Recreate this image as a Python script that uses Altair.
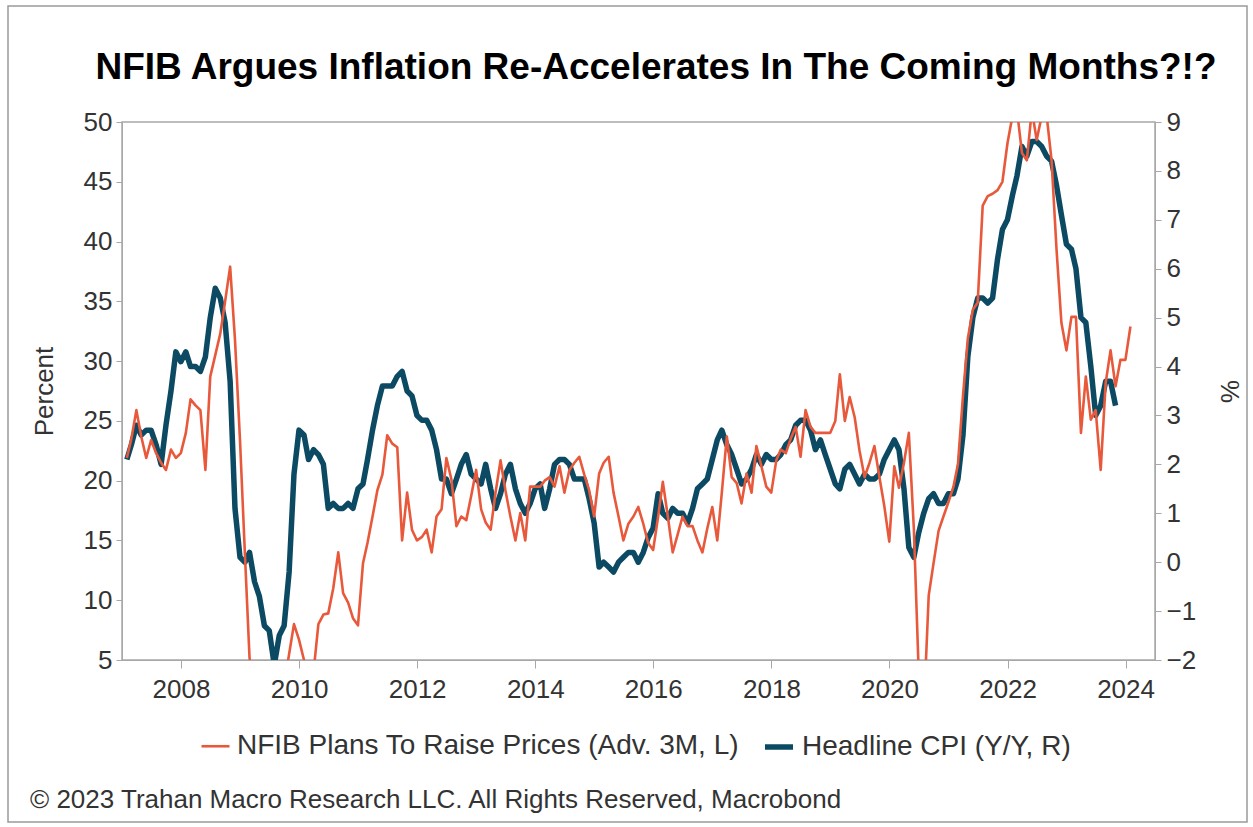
import altair as alt
import pandas as pd

RED = "#E8593C"
TEAL = "#0B4A62"
FONT = "Liberation Sans"
TXT = "#333333"
GRAY = "#a8a8a8"

TITLE = "NFIB Argues Inflation Re-Accelerates In The Coming Months?!?"
COPYRIGHT = "\u00a9 2023 Trahan Macro Research LLC. All Rights Reserved, Macrobond"
NFIB = "NFIB Plans To Raise Prices (Adv. 3M, L)"
CPI = "Headline CPI (Y/Y, R)"

# NFIB net % planning to raise prices, advanced 3 months (left axis), monthly from Jan 2007
nfib_2007 = [21.9, 23.5, 25.9, 23.7, 21.9, 23.4, 22.3, 21.5, 20.9, 22.6, 21.9, 22.3]
nfib_2008 = [24.0, 26.8, 26.3, 25.9, 20.9, 28.7, 30.5, 32.3, 35.0, 37.9, 31.8, 23.4]
nfib_2009 = [13.7, 5.2, 2.0, 1.0, 0.0, -1.0, 0.0, 1.0, 3.0, 5.5, 8.0, 6.7]
nfib_2010 = [5.0, 3.5, 4.0, 8.0, 8.8, 8.9, 11.0, 14.0, 10.6, 9.8, 8.5, 7.9]
nfib_2011 = [13.1, 14.8, 17.0, 19.2, 20.5, 23.8, 23.1, 22.8, 15.0, 19.0, 15.9, 15.0]
nfib_2012 = [15.3, 15.9, 14.0, 17.0, 17.6, 21.9, 20.1, 16.2, 17.0, 16.7, 18.7, 20.9]
nfib_2013 = [17.6, 16.5, 15.9, 19.0, 21.7, 19.2, 17.0, 15.0, 17.3, 15.0, 19.5, 19.5]
nfib_2014 = [19.5, 20.0, 20.3, 19.5, 21.2, 19.0, 20.9, 21.5, 22.0, 20.5, 19.2, 17.0]
nfib_2015 = [20.6, 21.5, 22.0, 19.0, 17.0, 15.0, 16.4, 17.0, 17.8, 16.4, 14.8, 14.2]
nfib_2016 = [17.0, 19.9, 17.0, 14.0, 15.5, 17.0, 16.2, 16.2, 15.0, 14.0, 16.0, 17.8]
nfib_2017 = [15.0, 19.0, 23.7, 20.3, 19.8, 18.1, 20.6, 19.0, 22.9, 21.2, 19.5, 19.0]
nfib_2018 = [21.7, 22.6, 22.3, 23.5, 24.5, 22.0, 25.9, 24.5, 24.0, 24.0, 24.0, 24.0]
nfib_2019 = [25.0, 28.9, 25.0, 27.0, 25.3, 22.5, 20.3, 21.5, 22.9, 20.3, 17.9, 14.9]
nfib_2020 = [21.2, 19.4, 21.5, 24.0, 16.0, 4.0, 0.5, 10.4, 13.1, 15.8, 17.0, 18.2]
nfib_2021 = [19.5, 21.4, 27.1, 31.9, 34.3, 34.9, 43.0, 43.8, 44.0, 44.3, 45.0, 48.2]
nfib_2022 = [50.5, 51.0, 47.4, 46.8, 51.0, 48.5, 50.5, 50.5, 46.8, 39.3, 33.2, 30.9]
nfib_2023 = [33.7, 33.7, 24.0, 28.7, 25.1, 25.9, 20.9, 28.2, 30.9, 27.9, 30.1, 30.1]
nfib_2024 = [32.9]

# Headline CPI, % Y/Y (right axis), monthly from Jan 2007
cpi_2007 = [2.1, 2.4, 2.8, 2.6, 2.7, 2.7, 2.4, 2.0, 2.8, 3.5, 4.3, 4.1]
cpi_2008 = [4.3, 4.0, 4.0, 3.9, 4.2, 5.0, 5.6, 5.4, 4.9, 3.7, 1.1, 0.1]
cpi_2009 = [0.0, 0.2, -0.4, -0.7, -1.3, -1.4, -2.1, -1.5, -1.3, -0.2, 1.8, 2.7]
cpi_2010 = [2.6, 2.1, 2.3, 2.2, 2.0, 1.1, 1.2, 1.1, 1.1, 1.2, 1.1, 1.5]
cpi_2011 = [1.6, 2.1, 2.7, 3.2, 3.6, 3.6, 3.6, 3.8, 3.9, 3.5, 3.4, 3.0]
cpi_2012 = [2.9, 2.9, 2.7, 2.3, 1.7, 1.7, 1.4, 1.7, 2.0, 2.2, 1.8, 1.7]
cpi_2013 = [1.6, 2.0, 1.5, 1.1, 1.4, 1.8, 2.0, 1.5, 1.2, 1.0, 1.2, 1.5]
cpi_2014 = [1.6, 1.1, 1.5, 2.0, 2.1, 2.1, 2.0, 1.7, 1.7, 1.7, 1.3, 0.8]
cpi_2015 = [-0.1, 0.0, -0.1, -0.2, 0.0, 0.1, 0.2, 0.2, 0.0, 0.2, 0.5, 0.7]
cpi_2016 = [1.4, 1.0, 0.9, 1.1, 1.0, 1.0, 0.8, 1.1, 1.5, 1.6, 1.7, 2.1]
cpi_2017 = [2.5, 2.7, 2.4, 2.2, 1.9, 1.6, 1.7, 1.9, 2.2, 2.0, 2.2, 2.1]
cpi_2018 = [2.1, 2.2, 2.4, 2.5, 2.8, 2.9, 2.9, 2.7, 2.3, 2.5, 2.2, 1.9]
cpi_2019 = [1.6, 1.5, 1.9, 2.0, 1.8, 1.6, 1.8, 1.7, 1.7, 1.8, 2.1, 2.3]
cpi_2020 = [2.5, 2.3, 1.5, 0.3, 0.1, 0.6, 1.0, 1.3, 1.4, 1.2, 1.2, 1.4]
cpi_2021 = [1.4, 1.7, 2.6, 4.2, 5.0, 5.4, 5.4, 5.3, 5.4, 6.2, 6.8, 7.0]
cpi_2022 = [7.5, 7.9, 8.5, 8.3, 8.6, 8.6, 8.5, 8.3, 8.2, 7.7, 7.1, 6.5]
cpi_2023 = [6.4, 6.0, 5.0, 4.9, 4.0, 3.0, 3.2, 3.7, 3.7, 3.2]

x_tick_years = [2008, 2010, 2012, 2014, 2016, 2018, 2020, 2022, 2024]
left_ticks = [5, 10, 15, 20, 25, 30, 35, 40, 45, 50]
right_ticks = [-2, -1, 0, 1, 2, 3, 4, 5, 6, 7, 8, 9]

nfib_values = (nfib_2007 + nfib_2008 + nfib_2009 + nfib_2010 + nfib_2011 + nfib_2012
               + nfib_2013 + nfib_2014 + nfib_2015 + nfib_2016 + nfib_2017 + nfib_2018
               + nfib_2019 + nfib_2020 + nfib_2021 + nfib_2022 + nfib_2023 + nfib_2024)
cpi_values = (cpi_2007 + cpi_2008 + cpi_2009 + cpi_2010 + cpi_2011 + cpi_2012 + cpi_2013
              + cpi_2014 + cpi_2015 + cpi_2016 + cpi_2017 + cpi_2018 + cpi_2019 + cpi_2020
              + cpi_2021 + cpi_2022 + cpi_2023)


def month_end_strings(n):
    # monthly observations, dated at the end of each month (Jan 2007 onward)
    starts = pd.date_range("2007-02-01", periods=n, freq="MS")
    ends = starts - pd.Timedelta(days=1)
    return list(ends.strftime("%Y-%m-%dT00:00:00"))


nfib_df = pd.DataFrame({"date": month_end_strings(len(nfib_values)), "value": nfib_values, "series": NFIB})
cpi_df = pd.DataFrame({"date": month_end_strings(len(cpi_values)), "value": cpi_values, "series": CPI})

W, H = 1033, 538
PAD = {"left": 122, "top": 122, "right": 98, "bottom": 167}
TICK_FS = 26

x_enc = alt.X(
    "date:T",
    scale=alt.Scale(domain=[alt.DateTime(year=2007, month=1, date=1),
                            alt.DateTime(year=2024, month=7, date=1)]),
    axis=alt.Axis(
        values=[alt.DateTime(year=y, month=1, date=1) for y in x_tick_years],
        format="%Y", title=None, tickSize=8, labelPadding=8, labelFontSize=TICK_FS,
        labelFont=FONT, labelColor=TXT, domainColor=GRAY, tickColor=GRAY, grid=False,
    ),
)

legend = alt.Legend(
    title=None, orient="none", legendX=78, legendY=608, direction="horizontal",
    symbolType="stroke", symbolSize=784, labelFontSize=28, labelFont=FONT,
    labelColor=TXT, columnPadding=14, labelOffset=6, labelLimit=0,
)
color_enc = alt.Color("series:N", scale=alt.Scale(domain=[NFIB, CPI], range=[RED, TEAL]), legend=legend)
width_enc = alt.StrokeWidth("series:N", scale=alt.Scale(domain=[NFIB, CPI], range=[2.6, 5.5]), legend=legend)

cpi_line = alt.Chart(cpi_df).mark_line(clip=True, strokeJoin="round").encode(
    x=x_enc,
    y=alt.Y("value:Q", scale=alt.Scale(domain=[-2, 9], nice=False, zero=False),
            axis=alt.Axis(orient="right", values=right_ticks, title="%", titleFontSize=TICK_FS,
                          titleFont=FONT, titleColor=TXT, titleFontWeight="normal",
                          titlePadding=20, tickSize=6, labelPadding=5, labelFontSize=TICK_FS,
                          labelFont=FONT, labelColor=TXT, domainColor=GRAY, tickColor=GRAY,
                          grid=False)),
    color=color_enc,
    strokeWidth=width_enc,
)

nfib_line = alt.Chart(nfib_df).mark_line(clip=True, strokeJoin="round").encode(
    x=x_enc,
    y=alt.Y("value:Q", scale=alt.Scale(domain=[5, 50], nice=False, zero=False),
            axis=alt.Axis(orient="left", values=left_ticks, title="Percent", titleFontSize=TICK_FS,
                          titleFont=FONT, titleColor=TXT, titleFontWeight="normal",
                          titlePadding=26, tickSize=6, labelPadding=4, labelFontSize=TICK_FS,
                          labelFont=FONT, labelColor=TXT, domainColor=GRAY, tickColor=GRAY,
                          grid=False)),
    color=color_enc,
    strokeWidth=width_enc,
)

title = alt.Chart(pd.DataFrame({"t": [TITLE]})).mark_text(
    align="center", baseline="middle", font=FONT, fontSize=37, fontWeight="bold", color="#000000"
).encode(x=alt.value(534), y=alt.value(-54), text="t:N")

note = alt.Chart(pd.DataFrame({"t": [COPYRIGHT]})).mark_text(
    align="left", baseline="middle", font=FONT, fontSize=26, color=TXT
).encode(x=alt.value(-92), y=alt.value(678), text="t:N")

frame = alt.Chart(pd.DataFrame({"a": [0]})).mark_rect(
    fill="transparent", stroke="#9a9a9a", strokeWidth=1.5
).encode(x=alt.value(-114), x2=alt.value(1125), y=alt.value(-116), y2=alt.value(700))

chart = alt.layer(frame, cpi_line, nfib_line, title, note).resolve_scale(
    y="independent"
).properties(
    width=W, height=H, padding=PAD, background="white",
    autosize=alt.AutoSizeParams(type="none"),
).configure_view(stroke=GRAY, strokeWidth=1.5)

chart.save("out.html", embed_options={"renderer": "svg", "actions": False})
